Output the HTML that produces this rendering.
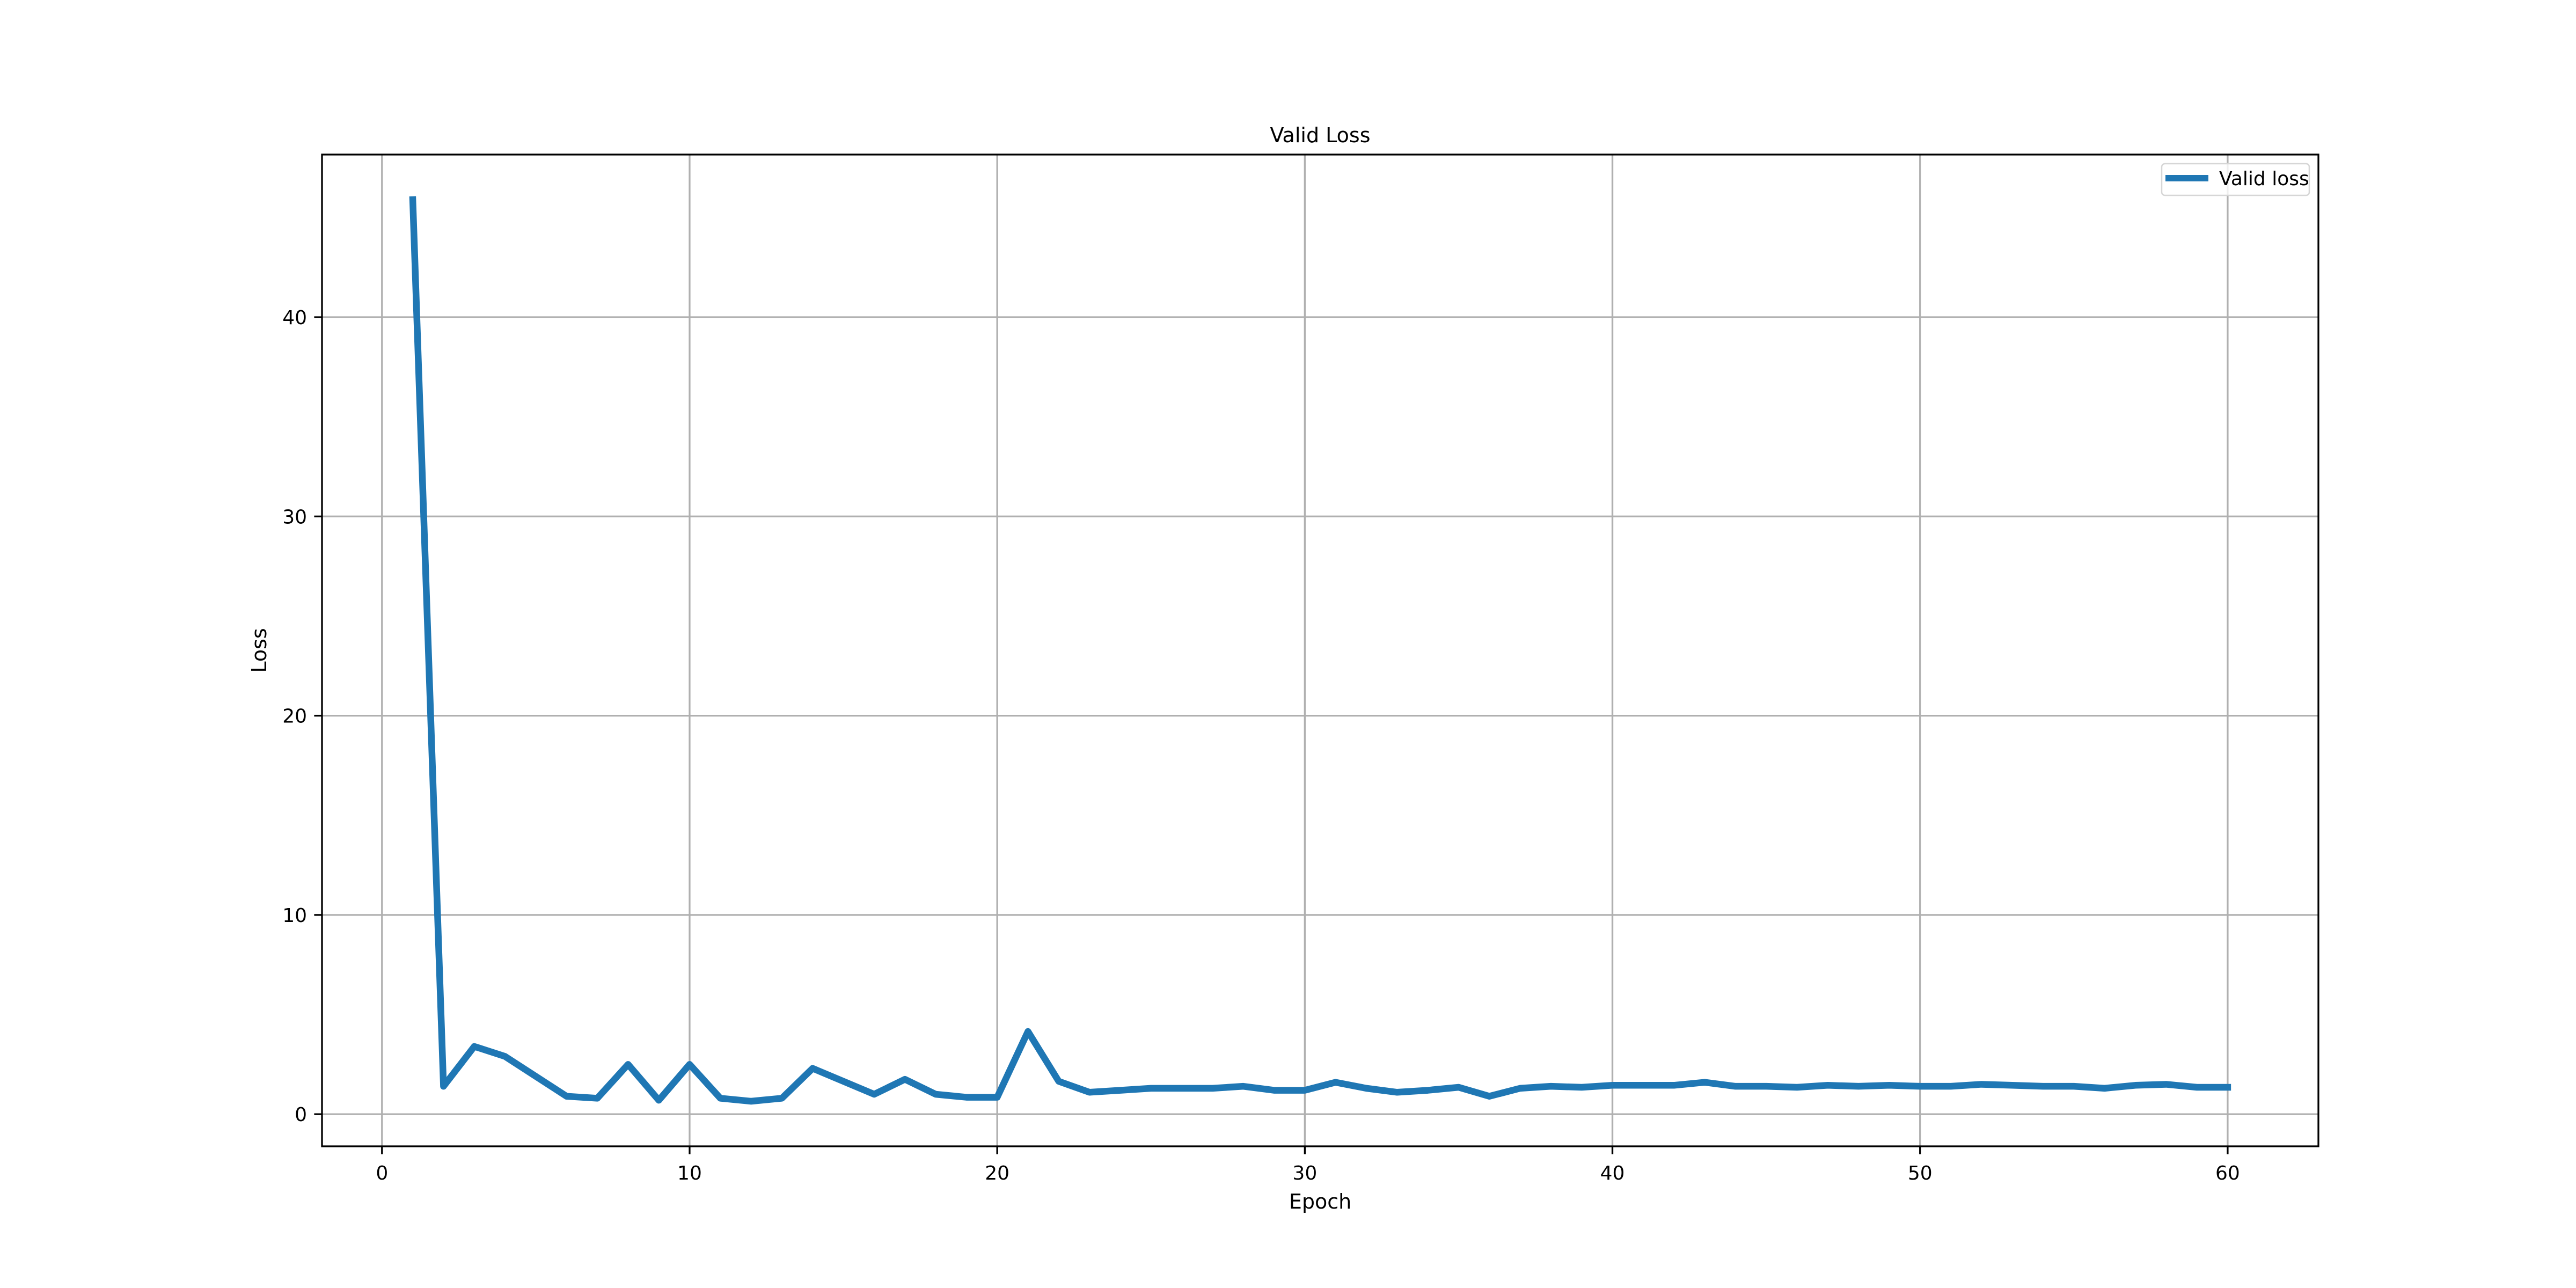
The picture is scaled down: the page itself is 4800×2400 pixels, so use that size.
<!DOCTYPE html>
<html><head><meta charset="utf-8"><style>html,body{margin:0;padding:0;background:#fff}svg{display:block}</style></head>
<body>
<svg id="chart" width="4800" height="2400" xmlns="http://www.w3.org/2000/svg" font-family="DejaVu Sans, Liberation Sans, sans-serif">
<rect width="4800" height="2400" fill="#fff"/>
<g id="grid"></g>
<g id="ticks"></g>
<g id="series"></g>
<rect x="600" y="288" width="3720" height="1848" fill="none" stroke="#000" stroke-width="3.3"/>
<text x="2460" y="265" font-size="38" text-anchor="middle">Valid Loss</text>
<text x="2460" y="2252" font-size="38" text-anchor="middle">Epoch</text>
<text x="0" y="0" font-size="38" text-anchor="middle" transform="translate(496,1212) rotate(-90)">Loss</text>
<g>
<rect x="4028" y="305" width="275" height="59" rx="6" fill="#fff" fill-opacity="0.8" stroke="#d6d6d6" stroke-width="2.5"/>
<line x1="4035" y1="332" x2="4115" y2="332" stroke="#1f77b4" stroke-width="12"/>
<text x="4135" y="345" font-size="36">Valid loss</text>
</g>
</svg>
<script>
const epochs = Array.from({length:60},(_,i)=>i+1);
const lossValues = [45.9,1.4,3.4,2.9,1.9,0.9,0.8,2.5,0.7,2.5,
0.8,0.65,0.8,2.3,1.65,1.0,1.75,1.0,0.85,0.85,
4.15,1.65,1.1,1.2,1.3,1.3,1.3,1.4,1.2,1.2,
1.6,1.3,1.1,1.2,1.35,0.9,1.3,1.4,1.35,1.45,
1.45,1.45,1.6,1.4,1.4,1.35,1.45,1.4,1.45,1.4,
1.4,1.5,1.45,1.4,1.4,1.3,1.45,1.5,1.35,1.35];
const xTicks = [0,10,20,30,40,50,60];
const yTicks = [0,10,20,30,40];
const NS='http://www.w3.org/2000/svg';
const L=600,R=4320,T=288,B=2136;
const xmin=-1.95,xmax=62.95;
const ymn=Math.min(...lossValues),ymx=Math.max(...lossValues),pad=(ymx-ymn)*0.05;
const ymin=ymn-pad,ymax=ymx+pad;
const sx=v=>L+(v-xmin)/(xmax-xmin)*(R-L);
const sy=v=>B-(v-ymin)/(ymax-ymin)*(B-T);
const grid=document.getElementById('grid'),ticks=document.getElementById('ticks'),series=document.getElementById('series');
function mk(tag,attrs,parent){const e=document.createElementNS(NS,tag);for(const k in attrs)e.setAttribute(k,attrs[k]);parent.appendChild(e);return e;}
xTicks.forEach(t=>{
  const x=sx(t);
  const g=mk('line',{x1:x,y1:T,x2:x,y2:B,stroke:'#b0b0b0','stroke-width':3.3},grid);
  
  
  const tk=mk('line',{x1:x,y1:B,x2:x,y2:B+14.6,stroke:'#000','stroke-width':3.3},ticks);
  
  
  const lb=mk('text',{x:x,y:B+62,'font-size':36,'text-anchor':'middle'},ticks);
  lb.textContent=t;
  
  
});
yTicks.forEach(t=>{
  const y=sy(t);
  const g=mk('line',{x1:L,y1:y,x2:R,y2:y,stroke:'#b0b0b0','stroke-width':3.3},grid);
  
  
  const tk=mk('line',{x1:L-14.6,y1:y,x2:L,y2:y,stroke:'#000','stroke-width':3.3},ticks);
  
  
  const lb=mk('text',{x:L-28,y:y+13,'font-size':36,'text-anchor':'end'},ticks);
  lb.textContent=t;
  
  
});
const pts=epochs.map((e,i)=>sx(e)+','+sy(lossValues[i])).join(' ');
const pl=mk('polyline',{points:pts,fill:'none',stroke:'#1f77b4','stroke-width':12.5,'stroke-linejoin':'round','stroke-linecap':'square'},series);


</script>
</body></html>
